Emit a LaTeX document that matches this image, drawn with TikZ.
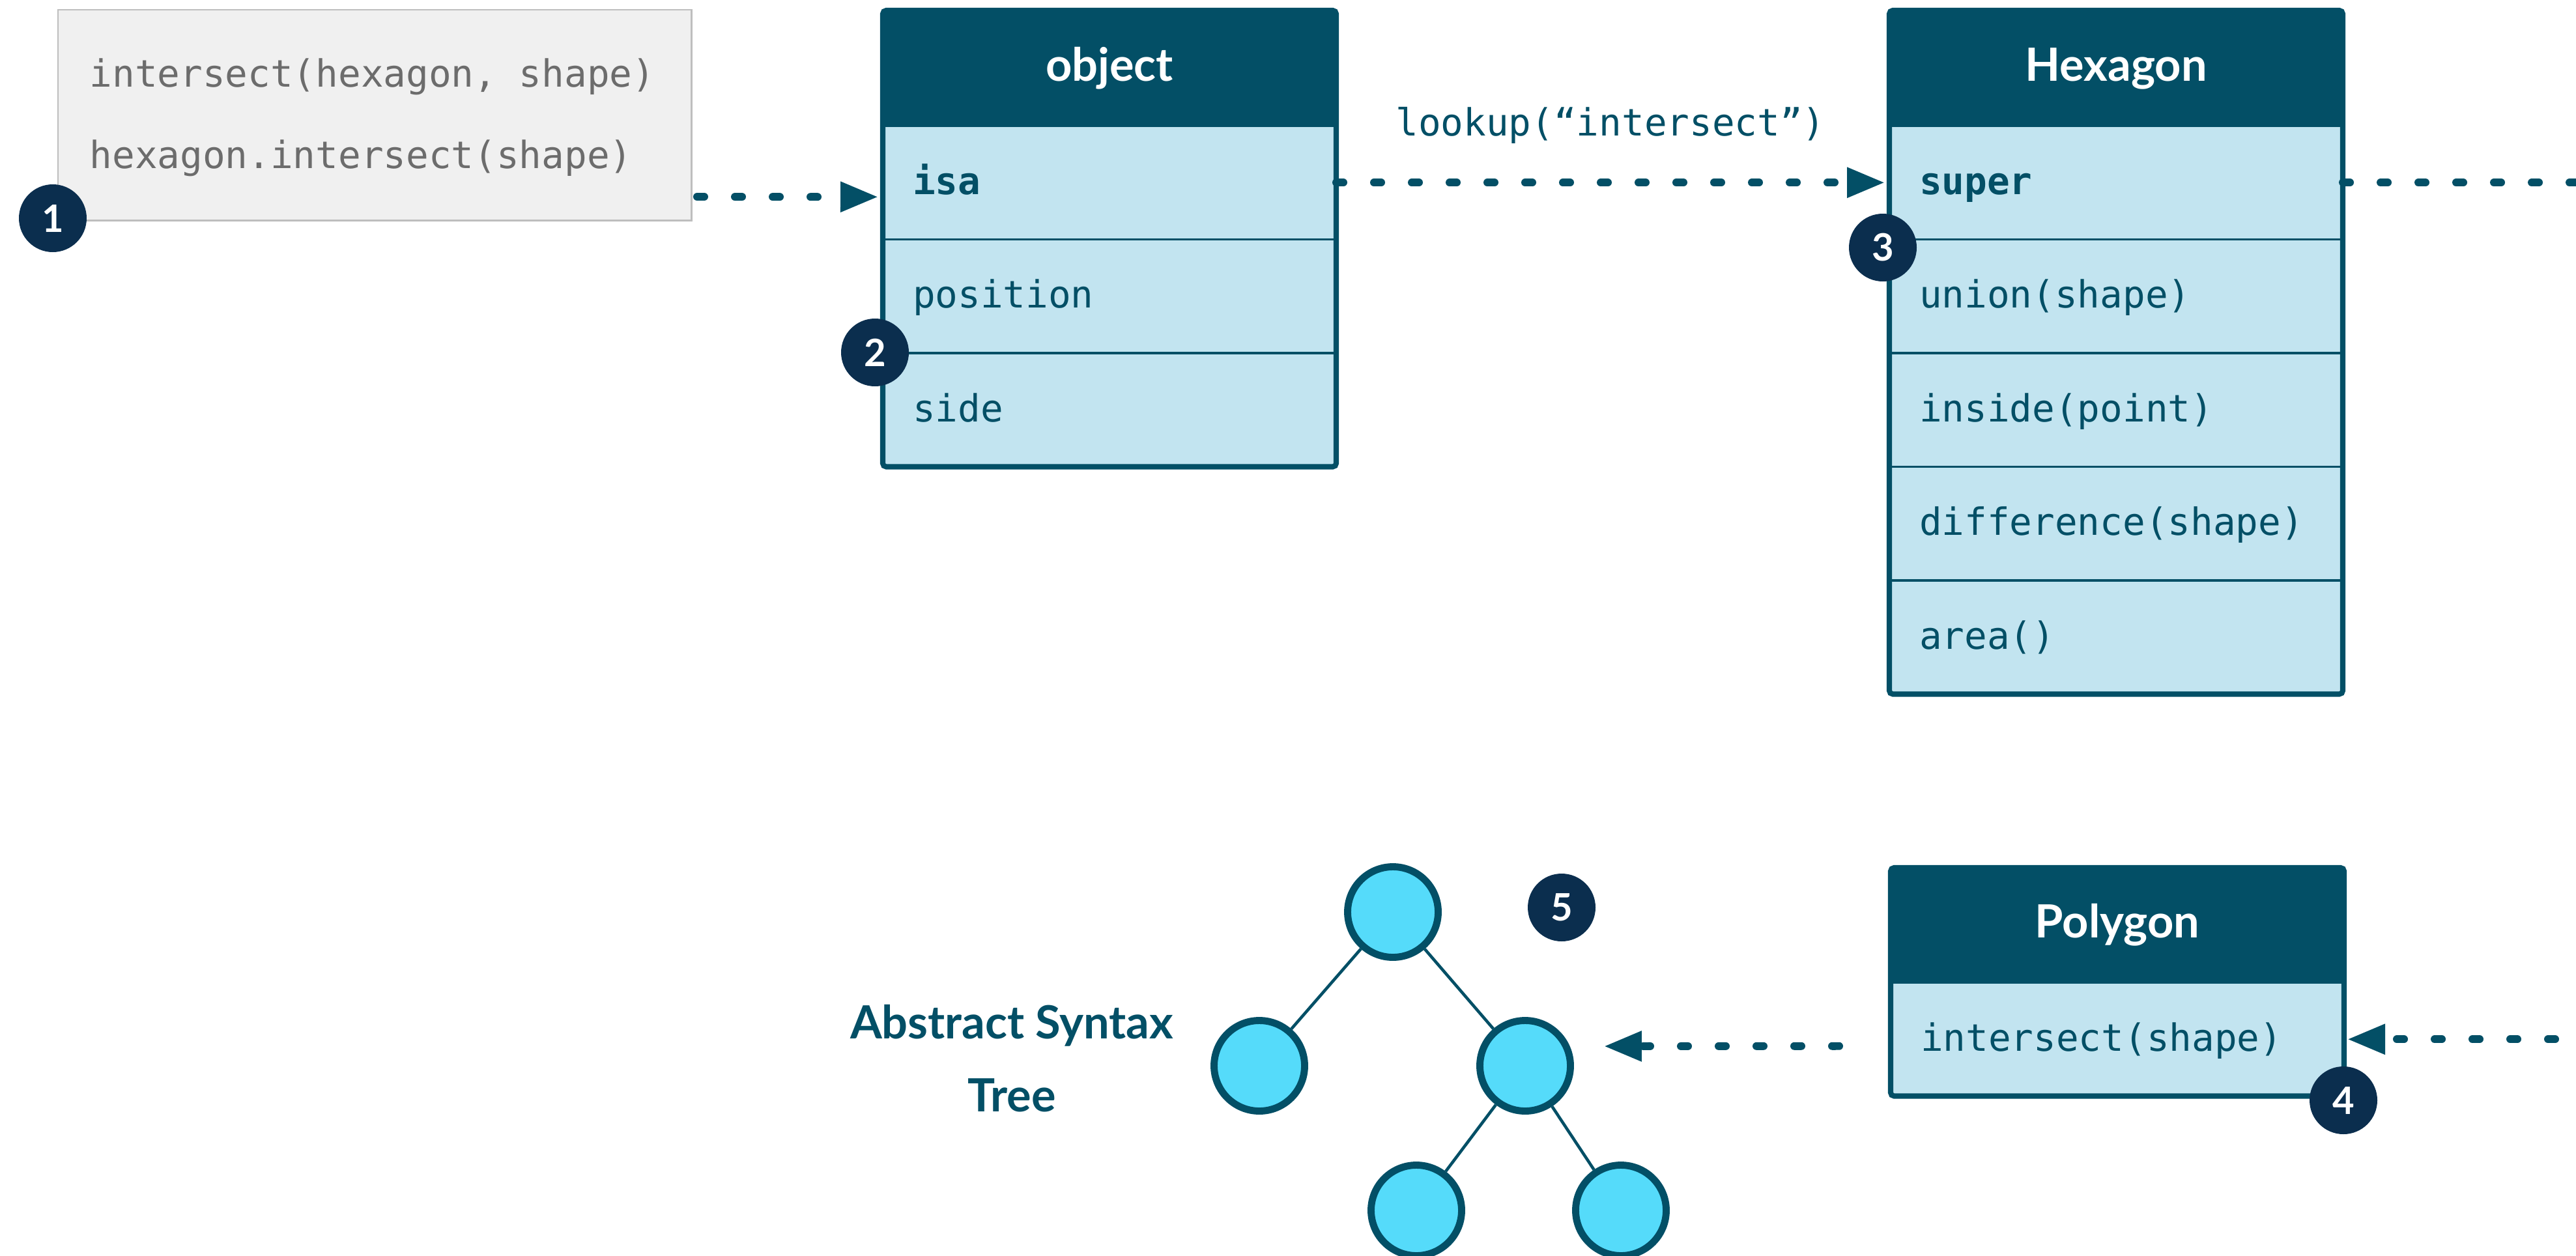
\documentclass[tikz,border=0pt]{standalone}
\usepackage{fontspec}
\setmainfont{Lato}
\newfontfamily\codefont{DejaVu Sans Mono}
\usetikzlibrary{arrows.meta,calc}

\definecolor{clsdark}{HTML}{034F66}
\definecolor{clslight}{HTML}{C2E4F0}
\definecolor{badgenavy}{HTML}{0B2E4E}
\definecolor{treecyan}{HTML}{55DBFA}
\definecolor{codefill}{HTML}{F0F0F0}
\definecolor{codeedge}{HTML}{BEBEBE}
\definecolor{codeink}{HTML}{6C6C6C}

\newcommand{\codesize}{\codefont\fontsize{16.4}{19.5}\selectfont}

\begin{document}
\begin{tikzpicture}[x=1cm, y=-1cm,
  hdr/.style={fill=clsdark, draw=clsdark, line width=0.8pt, outer sep=0pt,
    text=white, font=\fontsize{20}{24}\selectfont\bfseries,
    minimum width=6.96cm, inner sep=0pt, text height=14pt, text depth=2.9pt},
  row/.style={fill=clslight, draw=clsdark, line width=0.9pt, outer sep=0pt,
    text=clsdark, font=\codesize,
    minimum width=6.96cm, minimum height=1.745cm, inner ysep=0pt, inner xsep=0.46cm,
    text width=6.04cm, align=left, text height=12pt, text depth=1.8pt},
  frame/.style={draw=clsdark, line width=2.3pt, rounded corners=1.5pt},
  badge/.style={circle, fill=badgenavy, text=white,
    font=\fontsize{16.5}{19}\selectfont\bfseries, minimum size=1.04cm, inner sep=0pt},
  flowline/.style={draw=clsdark, line width=3.4pt, line cap=round,
    dash pattern=on 0.11cm off 0.47cm},
  flow/.style={flowline, -{Triangle[length=0.58cm, width=0.44cm]}},
  astnode/.style={circle, fill=treecyan, draw=clsdark, line width=3.1pt,
    minimum size=1.39cm, inner sep=0pt},
  astedge/.style={draw=clsdark, line width=1.3pt},
  codetxt/.style={anchor=base west, inner sep=0pt, text=codeink, font=\codesize},
  asttxt/.style={anchor=base, inner sep=0pt, text=clsdark,
    font=\fontsize{20}{24}\selectfont\bfseries}
]
\useasboundingbox (0,0) rectangle (39.54,19.28);

% call site
\node[fill=codefill, draw=codeedge, line width=0.85pt, outer sep=0pt,
  minimum width=9.72cm, minimum height=3.23cm] (code) at (5.75,1.765) {};
\node[codetxt] (call1) at (1.37,1.33) {intersect(hexagon, shape)};
\node[codetxt] (call2) at (1.37,2.58) {hexagon.intersect(shape)};

% object
\node[hdr, minimum height=1.77cm] (oHead) at (17.03,1.045) {object};
\node[row] (oIsa) at (17.03,2.8025) {\bfseries isa};
\node[row] (oPos) at (17.03,4.5475) {position};
\node[row] (oSide) at (17.03,6.2925) {side};
\draw[frame] (oHead.north west) rectangle (oSide.south east);

% Hexagon
\node[hdr, minimum height=1.77cm] (hHead) at (32.48,1.045) {Hexagon};
\node[row] (hSuper) at (32.48,2.8025) {\bfseries super};
\node[row] (hUnion) at (32.48,4.5475) {union(shape)};
\node[row] (hInside) at (32.48,6.2925) {inside(point)};
\node[row] (hDiff) at (32.48,8.0375) {difference(shape)};
\node[row] (hArea) at (32.48,9.7825) {area()};
\draw[frame] (hHead.north west) rectangle (hArea.south east);

% Polygon
\node[hdr, minimum height=1.76cm] (pHead) at (32.50,14.20) {Polygon};
\node[row] (pInt) at (32.50,15.9525) {intersect(shape)};
\draw[frame] (pHead.north west) rectangle (pInt.south east);

% abstract syntax tree
\node[astnode] (aRoot) at (21.38,14.00) {};
\node[astnode] (aL) at (19.33,16.36) {};
\node[astnode] (aR) at (23.41,16.36) {};
\node[astnode] (aRL) at (21.74,18.58) {};
\node[astnode] (aRR) at (24.88,18.58) {};
\draw[astedge] (aRoot) -- (aL);
\draw[astedge] (aRoot) -- (aR);
\draw[astedge] (aR) -- (aRL);
\draw[astedge] (aR) -- (aRR);
\node[asttxt] (astA) at (15.53,15.94) {Abstract Syntax};
\node[asttxt] (astB) at (15.53,17.06) {Tree};

% lookup chain
\coordinate (edgeHex) at (39.80,2.8025);
\coordinate (edgePoly) at (39.80,15.9525);
\draw[flow] ([xshift=0.09cm,yshift=-1.255cm]code.east) -- ([xshift=-0.07cm,yshift=-0.22cm]oIsa.west);
\draw[flow] (oIsa.east) -- node[midway, anchor=base, yshift=0.72cm, inner sep=0pt,
    text=clsdark, font=\codesize] (lookupLbl) {lookup(“intersect”)}
  ([xshift=-0.07cm]hSuper.west);
\draw[flowline] (hSuper.east) -- (edgeHex);
\draw[flow] (edgePoly) -- ([xshift=0.05cm]pInt.east);
\draw[flow] ([xshift=-0.79cm,yshift=-0.105cm]pInt.west) -- ([xshift=0.46cm,yshift=0.30cm]aR.east);

% step markers
\node[badge] (b1) at (0.81,3.35) {1};
\node[badge] (b2) at (13.43,5.41) {2};
\node[badge] (b3) at (28.90,3.80) {3};
\node[badge] (b4) at (35.97,16.89) {4};
\node[badge] (b5) at (23.97,13.93) {5};
\end{tikzpicture}
\end{document}
